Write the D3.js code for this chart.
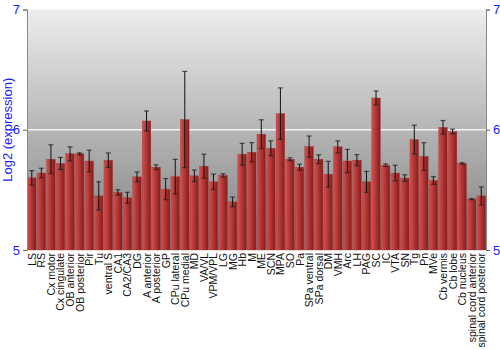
<!DOCTYPE html>
<html>
<head>
<meta charset="utf-8">
<script src="https://cdn.jsdelivr.net/npm/d3@7"></script>
<style>
  body { margin: 0; background: #fff; }
  svg { display: block; font-family: "Liberation Sans", Arial, sans-serif; }
</style>
</head>
<body>
<script>
// Log2 expression by brain region, with error bars

var regions = ["LS", "RS", "Cx motor", "Cx cingulate", "OB anterior", "OB posterior", "Pir", "Tu",
  "ventral S", "CA1", "CA2/CA3", "DG", "A anterior", "A posterior", "GP", "CPu lateral",
  "CPu medial", "MD", "VA/VL", "VPM/VPL", "LG", "MG", "Hb", "M", "ME", "SCN", "MPA", "SO",
  "Pa", "SPa ventral", "SPa dorsal", "DM", "VMH", "Arc", "LH", "PAG", "SC", "IC", "VTA", "SN",
  "Tg", "Pn", "MVe", "Cb vermis", "Cb lobe", "Cb nucleus", "spinal cord anterior", "spinal cord posterior"];

var means = [5.60, 5.64, 5.755, 5.72, 5.80, 5.80, 5.74, 5.45,
  5.747, 5.479, 5.434, 5.608, 6.073, 5.689, 5.506, 5.61,
  6.085, 5.617, 5.697, 5.567, 5.62, 5.40, 5.797, 5.813, 5.963, 5.846, 6.134, 5.755,
  5.689, 5.86, 5.755, 5.63, 5.858, 5.74, 5.747, 5.567, 6.264, 5.705, 5.64, 5.598,
  5.918, 5.777, 5.578, 6.02, 5.985, 5.72, 5.423, 5.45];

var errors = [0.06, 0.04, 0.12, 0.05, 0.058, 0.008, 0.09, 0.117,
  0.06, 0.022, 0.046, 0.04, 0.083, 0.02, 0.088, 0.144,
  0.40, 0.048, 0.10, 0.064, 0.014, 0.04, 0.09, 0.08, 0.12, 0.062, 0.214, 0.011,
  0.025, 0.088, 0.036, 0.107, 0.05, 0.097, 0.046, 0.087, 0.058, 0.011, 0.065, 0.028,
  0.12, 0.115, 0.032, 0.057, 0.02, 0.006, 0.005, 0.075];

var yTicks = [5, 6, 7];

var w = 500, h = 350;
var plotLeft = 27, plotRight = 486, plotTop = 9.5, plotBottom = 250;

var svg = d3.select("body").append("svg")
  .attr("width", w)
  .attr("height", h);

var defs = svg.append("defs");
var bg = defs.append("linearGradient").attr("id", "bg")
  .attr("x1", 0).attr("y1", 0).attr("x2", 0).attr("y2", 1);
bg.append("stop").attr("offset", "0%").attr("stop-color", "#ededed");
bg.append("stop").attr("offset", "100%").attr("stop-color", "#7e7e7e");

var barFill = defs.append("linearGradient").attr("id", "barFill")
  .attr("x1", 0).attr("y1", 0).attr("x2", 1).attr("y2", 0);
barFill.append("stop").attr("offset", "0%").attr("stop-color", "#d4504d");
barFill.append("stop").attr("offset", "100%").attr("stop-color", "#861b1b");

var x = d3.scaleBand()
  .domain(regions)
  .range([plotLeft, plotRight])
  .paddingInner(0.1)
  .paddingOuter(0.05);

var y = d3.scaleLinear()
  .domain([5, 7])
  .range([plotBottom, plotTop]);

// plot background
svg.append("rect")
  .attr("x", plotLeft).attr("y", plotTop)
  .attr("width", plotRight - plotLeft).attr("height", plotBottom - plotTop)
  .style("fill", "url(#bg)");

// gridline at 6
svg.append("line")
  .attr("x1", plotLeft).attr("x2", plotRight)
  .attr("y1", y(6)).attr("y2", y(6))
  .style("stroke", "#f4f4f4")
  .style("stroke-width", 1.5);

// bars
svg.selectAll(".bar")
  .data(regions)
  .enter().append("rect")
  .attr("class", "bar")
  .attr("x", function(d){ return x(d); })
  .attr("width", x.bandwidth())
  .attr("y", function(d, i){ return y(means[i]); })
  .attr("height", function(d, i){ return plotBottom - y(means[i]); })
  .style("fill", "url(#barFill)")
  .style("stroke", "#a23a3a")
  .style("stroke-width", 0.4);

// error bars
var eb = svg.selectAll(".err")
  .data(regions)
  .enter().append("g")
  .attr("class", "err");

eb.append("line")
  .attr("x1", function(d){ return x(d) + x.bandwidth() / 2; })
  .attr("x2", function(d){ return x(d) + x.bandwidth() / 2; })
  .attr("y1", function(d, i){ return y(means[i] + errors[i]); })
  .attr("y2", function(d, i){ return y(means[i] - errors[i]); })
  .style("stroke", "#111")
  .style("stroke-width", 1);

eb.each(function(d, i){
  var g = d3.select(this);
  var cx = x(d) + x.bandwidth() / 2;
  [means[i] + errors[i], means[i] - errors[i]].forEach(function(v){
    g.append("line")
      .attr("x1", cx - 2.5).attr("x2", cx + 2.5)
      .attr("y1", y(v)).attr("y2", y(v))
      .style("stroke", "#222")
      .style("stroke-opacity", 0.75)
      .style("stroke-width", 1.2);
  });
});

// left and right axes
var yLeft = svg.append("g")
  .attr("transform", "translate(" + plotLeft + ",0)")
  .call(d3.axisLeft(y).tickValues(yTicks).tickSize(4).tickPadding(3).tickFormat(d3.format("d")));

var yRight = svg.append("g")
  .attr("transform", "translate(" + plotRight + ",0)")
  .call(d3.axisRight(y).tickValues(yTicks).tickSize(4).tickPadding(3).tickFormat(d3.format("d")));

[yLeft, yRight].forEach(function(a){
  a.select(".domain").style("stroke", "#888");
  a.selectAll(".tick line").style("stroke", "#666");
  a.selectAll(".tick text")
    .style("fill", "#1a1aff")
    .style("font-size", "13px")
    .style("font-family", "Liberation Sans, Arial, sans-serif");
});

// x labels
svg.selectAll(".xlab")
  .data(regions)
  .enter().append("text")
  .attr("class", "xlab")
  .attr("transform", function(d){
    return "translate(" + (x(d) + x.bandwidth() / 2 + 4) + "," + (plotBottom + 3) + ") rotate(-90)";
  })
  .attr("text-anchor", "end")
  .style("font-size", "10.5px")
  .style("fill", "#111")
  .text(function(d){ return d; });

// y title
svg.append("text")
  .attr("transform", "translate(12," + ((plotTop + plotBottom) / 2) + ") rotate(-90)")
  .attr("text-anchor", "middle")
  .style("font-size", "13px")
  .style("fill", "#1a1aff")
  .text("Log2 (expression)");
</script>
</body>
</html>
